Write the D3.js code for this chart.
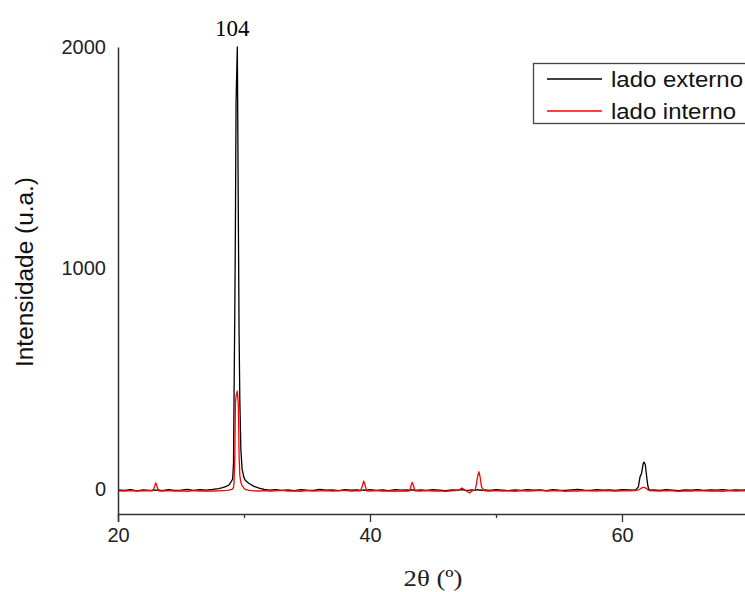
<!DOCTYPE html>
<html>
<head>
<meta charset="utf-8">
<script src="https://cdn.jsdelivr.net/npm/d3@7"></script>
<style>
  html, body { margin: 0; padding: 0; background: #fff; overflow: hidden; }
  svg { display: block; }
</style>
</head>
<body>
<svg id="chart" width="745" height="592"></svg>
<script>
// ---- data ----
const twoTheta = [
  20.0,20.5,21.0,21.5,22.0,22.5,22.75,22.9,23.0,23.1,23.2,23.5,24.0,24.5,25.0,25.5,26.0,26.5,27.0,27.5,
  28.0,28.3,28.6,28.8,29.0,29.1,29.17,29.21,29.27,29.32,29.37,29.47,29.55,29.61,29.67,29.75,29.85,29.98,
  30.1,30.4,30.8,31.2,31.6,32.0,32.5,33.0,33.5,34.0,34.5,35.0,35.5,36.0,36.5,37.0,37.5,38.0,38.5,39.0,
  39.25,39.4,39.5,39.6,39.72,40.0,40.5,41.0,41.5,42.0,42.5,43.0,43.15,43.28,43.35,43.45,43.57,44.0,44.5,
  45.0,45.5,46.0,46.5,47.0,47.3,47.6,47.9,48.1,48.35,48.45,48.55,48.65,48.75,48.85,49.0,49.1,49.5,
  50.0,50.5,51.0,51.5,52.0,52.5,53.0,53.5,54.0,54.5,55.0,55.5,56.0,56.5,57.0,57.5,58.0,58.5,59.0,59.5,
  60.0,60.5,61.08,61.3,61.43,61.55,61.68,61.75,61.85,61.95,62.05,62.15,62.5,63.0,63.5,64.0,64.5,65.0,
  65.5,66.0,66.5,67.0,67.5,68.0,68.5,69.0,69.5,70.0
];
const ladoExterno = [
  -4,-6,-3,-8,-4,-6,-5,-4,-6,-5,-4,-7,-3,-6,-5,-2,-6,-3,-5,-2,
  2,6,12,18,35,45,120,420,800,1200,1750,2000,1240,700,400,180,90,55,
  40,25,12,4,-2,-5,-3,-6,-4,-7,-3,-5,-6,-2,-5,-4,-7,-3,-5,-4,
  -6,-5,-4,-6,-5,-3,-6,-4,-7,-3,-5,-4,-6,-3,-5,-4,-6,-4,-6,
  -3,-5,-7,-4,-5,-3,-6,-5,-4,-6,-4,-3,-5,-4,-6,-5,-4,-6,
  -3,-5,-7,-4,-6,-3,-5,-4,-7,-3,-5,-6,-4,-2,-5,-6,-3,-5,-4,-6,
  -3,-4,-5,10,55,70,115,122,110,60,15,-5,-4,-6,-3,-5,-7,-4,
  -5,-3,-6,-4,-5,-3,-6,-4,-5,-4
];
const ladoInterno = [
  -8,-9,-7,-9,-8,-7,-8,10,28,12,-8,-9,-7,-9,-8,-10,-7,-9,-8,-9,
  -8,-7,-6,-5,-2,0,8,30,150,390,420,443,380,150,60,30,15,5,
  -2,-6,-8,-9,-7,-9,-8,-6,-9,-8,-10,-7,-9,-8,-7,-9,-8,-6,-9,-8,
  -8,15,36,20,-8,-9,-7,-9,-8,-10,-8,-9,-8,20,30,15,-8,-9,-7,
  -9,-8,-10,-8,-6,4,-7,-18,-8,-5,25,60,78,50,10,-5,-8,-9,
  -7,-9,-8,-10,-7,-9,-8,-6,-9,-8,-7,-10,-8,-9,-7,-8,-9,-7,-8,-9,
  -8,-8,-7,-4,0,4,8,7,5,2,-3,-7,-8,-9,-7,-8,-10,-8,
  -9,-7,-8,-9,-8,-10,-7,-9,-8,-9
];
const xTickMajor = [20, 40, 60];
const xTickMinor = [30, 50, 70];
const yTicks = [0, 1000, 2000];
const seriesNames = ["lado externo", "lado interno"];
const seriesColors = ["#000000", "#ff0000"];
const peakLabel = {text: "104", at: 29.47, value: 2000};

// ---- drawing ----
const svg = d3.select("#chart");
const x = d3.scaleLinear().domain([20, 70]).range([118, 748]);
const y = d3.scaleLinear().domain([-113, 2000]).range([514, 47]);

const sans = "'Liberation Sans', Arial, sans-serif";
const serif = "'Liberation Serif', 'Times New Roman', serif";

// lines
const series = [ladoExterno, ladoInterno];
const line = d3.line().x(d => x(d[0])).y(d => y(d[1]));
series.forEach((vals, i) => {
  svg.append("path")
    .datum(twoTheta.map((t, j) => [t, vals[j]]))
    .attr("d", line)
    .attr("fill", "none")
    .attr("stroke", seriesColors[i])
    .attr("stroke-width", 1.3)
    .attr("stroke-linejoin", "round");
});

// x axis
const xAxisG = svg.append("g").attr("transform", `translate(0,${y(-113)})`);
xAxisG.call(d3.axisBottom(x).tickValues(xTickMajor).tickSize(8).tickPadding(6).tickFormat(d3.format("d")));
xAxisG.selectAll(".tick text").attr("font-family", sans).attr("font-size", 20).attr("fill", "#222");
xAxisG.selectAll("line").attr("stroke", "#333").attr("stroke-width", 1.3);
xAxisG.select(".domain").attr("stroke", "#333").attr("stroke-width", 1.5);
const xMinorG = svg.append("g").attr("transform", `translate(0,${y(-113)})`);
xMinorG.call(d3.axisBottom(x).tickValues(xTickMinor).tickSize(4).tickFormat(""));
xMinorG.select(".domain").remove();
xMinorG.selectAll("line").attr("stroke", "#333").attr("stroke-width", 1.3);

// y axis
const yAxisG = svg.append("g").attr("transform", `translate(${x(20)},0)`);
yAxisG.call(d3.axisLeft(y).tickValues(yTicks).tickSize(0).tickPadding(12).tickFormat(d3.format("d")));
yAxisG.select(".domain").attr("stroke", "#333").attr("stroke-width", 1.5);
yAxisG.selectAll(".tick text").attr("font-family", sans).attr("font-size", 20).attr("fill", "#222");

// axis titles
svg.append("text")
  .attr("x", 433).attr("y", 586)
  .attr("text-anchor", "middle")
  .attr("font-family", serif).attr("font-size", 23).attr("fill", "#222")
  .attr("textLength", 59).attr("lengthAdjust", "spacingAndGlyphs")
  .text("2θ (º)");
svg.append("text")
  .attr("transform", "translate(33,272) rotate(-90)")
  .attr("text-anchor", "middle")
  .attr("font-family", sans).attr("font-size", 23).attr("fill", "#111")
  .attr("textLength", 190).attr("lengthAdjust", "spacingAndGlyphs")
  .text("Intensidade (u.a.)");

// peak label
svg.append("text")
  .attr("x", x(peakLabel.at) - 5).attr("y", 36)
  .attr("text-anchor", "middle")
  .attr("font-family", serif).attr("font-size", 23).attr("fill", "#000")
  .text(peakLabel.text);

// legend
const leg = svg.append("g");
leg.append("rect").attr("x", 533.5).attr("y", 63.5).attr("width", 240).attr("height", 60)
  .attr("fill", "#fff").attr("stroke", "#444").attr("stroke-width", 1.3);
const legW = [132, 125];
seriesNames.forEach((name, i) => {
  const cy = 79 + i * 32;
  leg.append("line").attr("x1", 547).attr("x2", 602).attr("y1", cy).attr("y2", cy)
    .attr("stroke", seriesColors[i]).attr("stroke-width", 1.3);
  leg.append("text").attr("x", 611).attr("y", cy + 8)
    .attr("font-family", sans).attr("font-size", 22).attr("fill", "#111")
    .attr("textLength", legW[i]).attr("lengthAdjust", "spacingAndGlyphs")
    .text(name);
});
</script>
</body>
</html>
